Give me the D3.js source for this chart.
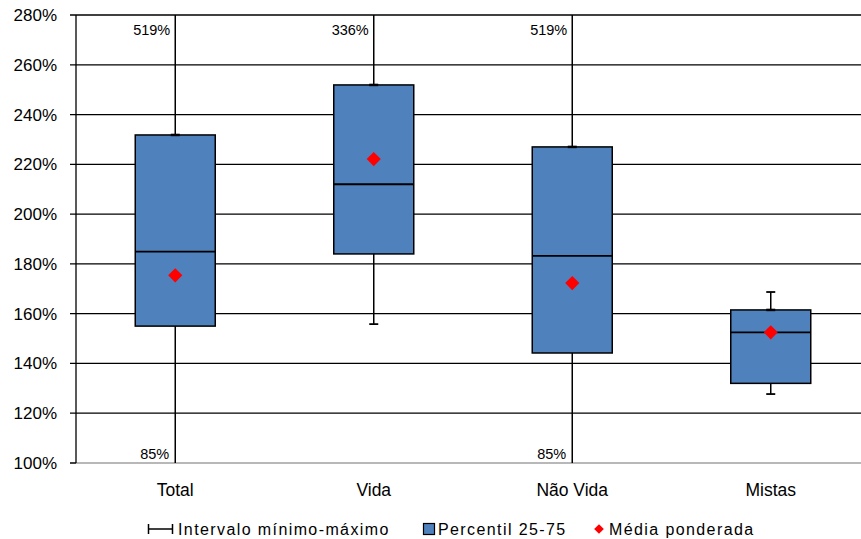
<!DOCTYPE html>
<html><head><meta charset="utf-8">
<script src="https://cdn.jsdelivr.net/npm/d3@7"></script>
<style>
body{margin:0;background:#fff;}
svg{display:block;font-family:"Liberation Sans",Arial,sans-serif;}
</style></head>
<body><svg id="c" width="861" height="539"></svg>
<script>
const categories = ["Total","Vida","Não Vida","Mistas"];
const minVals = [0.85, 1.558, 0.85, 1.277];
const q1Vals = [1.550, 1.840, 1.442, 1.320];
const medianVals = [1.849, 2.120, 1.832, 1.525];
const q3Vals = [2.318, 2.519, 2.270, 1.615];
const maxVals = [5.19, 3.36, 5.19, 1.687];
const meanVals = [1.754, 2.221, 1.723, 1.525];
const yTicks = [1.0,1.2,1.4,1.6,1.8,2.0,2.2,2.4,2.6,2.8];
const legendLabels = ["Intervalo mínimo-máximo","Percentil 25-75","Média ponderada"];

const svg = d3.select("#c");
const L=76, R=870, T=15, B=463;
const x = d3.scaleBand().domain(categories).range([L,R]).padding(0);
const y = d3.scaleLinear().domain([1.0,2.8]).range([B,T]);
const fmt = d => Math.round(d*100)+"%";

svg.append("clipPath").attr("id","plot").append("rect").attr("x",L).attr("y",T).attr("width",R-L).attr("height",B-T);

// gridlines
svg.append("g").selectAll("line").data(yTicks.filter(d=>d>1.0)).join("line")
  .attr("x1",L-6).attr("x2",R).attr("y1",d=>y(d)).attr("y2",d=>y(d))
  .attr("stroke","#000").attr("stroke-width",1.3);
svg.append("line").attr("x1",L-6).attr("x2",R).attr("y1",B).attr("y2",B).attr("stroke","#a0a0a0").attr("stroke-width",1.5);
svg.append("line").attr("x1",L-6).attr("x2",L).attr("y1",B).attr("y2",B).attr("stroke","#000").attr("stroke-width",1.3);

// y axis
const ya = svg.append("g").attr("transform",`translate(${L},0)`)
  .call(d3.axisLeft(y).tickValues(yTicks).tickFormat(fmt).tickSize(0).tickPadding(19));
ya.select(".domain").remove();
ya.selectAll("text").attr("font-size","17px").attr("fill","#000").attr("font-family","Liberation Sans, Arial, sans-serif");
svg.append("line").attr("x1",L).attr("x2",L).attr("y1",T).attr("y2",B).attr("stroke","#000").attr("stroke-width",1.3);

// x axis labels
const xa = svg.append("g").attr("transform",`translate(0,${B})`)
  .call(d3.axisBottom(x).tickSize(0).tickPadding(21));
xa.select(".domain").remove();
xa.selectAll("text").attr("font-size","17.5px").attr("fill","#000").attr("font-family","Liberation Sans, Arial, sans-serif");

const data = categories.map((c,i)=>({c,min:minVals[i],q1:q1Vals[i],med:medianVals[i],q3:q3Vals[i],max:maxVals[i],mean:meanVals[i]}));
const cx = d => x(d.c)+x.bandwidth()/2;
const bw = 80, cap = 9;

const g = svg.append("g").attr("clip-path","url(#plot)");
g.selectAll(".wh").data(data).join("line")
  .attr("x1",cx).attr("x2",cx).attr("y1",d=>y(d.max)).attr("y2",d=>y(d.min))
  .attr("stroke","#000").attr("stroke-width",1.5);
g.selectAll(".capmax").data(data.filter(d=>d.max<=2.8)).join("line")
  .attr("x1",d=>cx(d)-cap/2).attr("x2",d=>cx(d)+cap/2).attr("y1",d=>y(d.max)).attr("y2",d=>y(d.max))
  .attr("stroke","#000").attr("stroke-width",1.8);
g.selectAll(".capmin").data(data.filter(d=>d.min>=1.0)).join("line")
  .attr("x1",d=>cx(d)-cap/2).attr("x2",d=>cx(d)+cap/2).attr("y1",d=>y(d.min)).attr("y2",d=>y(d.min))
  .attr("stroke","#000").attr("stroke-width",1.8);
g.selectAll(".box").data(data).join("rect")
  .attr("x",d=>cx(d)-bw/2).attr("width",bw).attr("y",d=>y(d.q3)).attr("height",d=>y(d.q1)-y(d.q3))
  .attr("fill","#4f81bd").attr("stroke","#000").attr("stroke-width",1.5);
g.selectAll(".capq3").data(data).join("line")
  .attr("x1",d=>cx(d)-cap/2).attr("x2",d=>cx(d)+cap/2).attr("y1",d=>y(d.q3)).attr("y2",d=>y(d.q3))
  .attr("stroke","#000").attr("stroke-width",2.5);
g.selectAll(".med").data(data).join("line")
  .attr("x1",d=>cx(d)-bw/2).attr("x2",d=>cx(d)+bw/2).attr("y1",d=>y(d.med)).attr("y2",d=>y(d.med))
  .attr("stroke","#000").attr("stroke-width",1.8);
const diamond = d3.symbol().type(d3.symbolDiamond2).size(128);
g.selectAll(".mean").data(data).join("path")
  .attr("d",diamond).attr("transform",d=>`translate(${cx(d)},${y(d.mean)})`)
  .attr("fill","#ff0000");

// off-chart labels
svg.selectAll(".lmax").data(data.filter(d=>d.max>2.8)).join("text")
  .attr("x",d=>cx(d)-5).attr("y",35).attr("text-anchor","end")
  .attr("font-size","14.5px").text(d=>fmt(d.max));
svg.selectAll(".lmin").data(data.filter(d=>d.min<1.0)).join("text")
  .attr("x",d=>cx(d)-6).attr("y",459).attr("text-anchor","end")
  .attr("font-size","14.5px").text(d=>fmt(d.min));

// legend
const lg = svg.append("g").attr("font-size","16px").attr("letter-spacing","1.4px").attr("fill","#000");
lg.append("line").attr("x1",148).attr("x2",173).attr("y1",529).attr("y2",529).attr("stroke","#000").attr("stroke-width",1.5);
lg.append("line").attr("x1",148.5).attr("x2",148.5).attr("y1",524).attr("y2",534).attr("stroke","#000").attr("stroke-width",1.5);
lg.append("line").attr("x1",172.5).attr("x2",172.5).attr("y1",524).attr("y2",534).attr("stroke","#000").attr("stroke-width",1.5);
lg.append("text").attr("x",178).attr("y",535).text(legendLabels[0]);
lg.append("rect").attr("x",423.5).attr("y",523.5).attr("width",11).attr("height",11).attr("fill","#4f81bd").attr("stroke","#000").attr("stroke-width",1.2);
lg.append("text").attr("x",438).attr("y",535).text(legendLabels[1]);
lg.append("path").attr("d",d3.symbol().type(d3.symbolDiamond2).size(60)).attr("transform","translate(599,529)").attr("fill","#ff0000");
lg.append("text").attr("x",609).attr("y",535).text(legendLabels[2]);
</script></body></html>
